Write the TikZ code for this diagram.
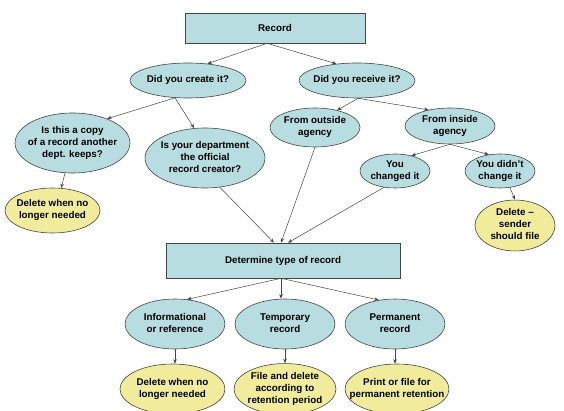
\documentclass[tikz,border=0pt]{standalone}
\usepackage{fontspec}
\setmainfont{Liberation Sans}
\usetikzlibrary{shapes.geometric,arrows.meta}
\definecolor{bb}{RGB}{183, 221, 224}
\definecolor{yy}{RGB}{241, 236, 155}
\definecolor{ln}{RGB}{70, 70, 70}
\newcommand{\tx}[1]{\makebox[0pt]{\begin{tabular}{@{}c@{}}#1\end{tabular}}}

\begin{document}
\begin{tikzpicture}[font=\fontsize{9.8}{12}\selectfont\bfseries,
  rbox/.style={rectangle, fill=bb, draw=ln, line width=0.6pt, inner sep=0pt},
  qq/.style={ellipse, fill=bb, draw=ln, line width=0.6pt, inner sep=0pt},
  aw/.style={ellipse, fill=yy, draw=ln, line width=0.6pt, inner sep=0pt},
  ar/.style={-{Stealth[length=4.5pt, width=3.5pt]}, line width=0.5pt, color=ln}]
\useasboundingbox[fill=white] (0pt, 0pt) rectangle (564pt, -411pt);
\node (rec) [rbox, minimum width=180pt, minimum height=30pt] at (275pt, -28pt) {Record};
\node (cre) [qq, minimum width=116pt, minimum height=35pt] at (188pt, -80.5pt) {\tx{Did you create it?}};
\node (rcv) [qq, minimum width=116pt, minimum height=35pt] at (357pt, -80.5pt) {\tx{Did you receive it?}};
\node (cpy) [qq, minimum width=115pt, minimum height=60pt] at (72.5pt, -143pt) {\tx{Is this a copy\\of a record another\\dept. keeps?}};
\node (dep) [qq, minimum width=120pt, minimum height=60pt] at (205pt, -158pt) {\tx{Is your department\\the official\\record creator?}};
\node (out) [qq, minimum width=90pt, minimum height=39pt] at (315pt, -127.5pt) {\tx{From outside\\agency}};
\node (ins) [qq, minimum width=90pt, minimum height=36pt] at (450pt, -126pt) {\tx{From inside\\agency}};
\node (chg) [qq, minimum width=70pt, minimum height=34pt] at (395pt, -171pt) {\tx{You\\changed it}};
\node (nch) [qq, minimum width=70pt, minimum height=34pt] at (500pt, -171pt) {\tx{You didn’t\\change it}};
\node (del1) [aw, minimum width=95pt, minimum height=45pt] at (52.5pt, -210.5pt) {\tx{Delete when no\\longer needed}};
\node (snd) [aw, minimum width=80pt, minimum height=45pt] at (515pt, -225.5pt) {\tx{Delete –\\sender\\should file}};
\node (det) [rbox, minimum width=234pt, minimum height=35pt] at (283pt, -260.5pt) {Determine type of record};
\node (inf) [qq, minimum width=100pt, minimum height=50pt] at (175pt, -324pt) {\tx{Informational\\or reference}};
\node (tmp) [qq, minimum width=100pt, minimum height=50pt] at (285pt, -324pt) {\tx{Temporary\\record}};
\node (prm) [qq, minimum width=100pt, minimum height=50pt] at (395pt, -324pt) {\tx{Permanent\\record}};
\node (del2) [aw, minimum width=105pt, minimum height=50pt] at (172.5pt, -389pt) {\tx{Delete when no\\longer needed}};
\node (fil) [aw, minimum width=102pt, minimum height=50pt] at (285pt, -389pt) {\tx{File and delete\\according to\\retention period}};
\node (prn) [aw, minimum width=104pt, minimum height=50pt] at (397pt, -389pt) {\tx{Print or file for\\permanent retention}};
\draw [ar] ([xshift=-8pt]rec.south) to (cre.41);
\draw [ar] ([xshift=-8pt]rec.south) to (rcv.141);
\draw [ar] (cre.233) to (cpy.35);
\draw [ar] (cre.233) to (dep.110);
\draw [ar] (rcv.274) to (out.38);
\draw [ar] (rcv.274) to (ins.143);
\draw [ar] (ins.south) to (chg.43);
\draw [ar] (ins.south) to (nch.124);
\draw [ar] (cpy.256) to (del1.69);
\draw [ar] (nch.301) to (snd.north);
\draw [ar] (dep.297) to ([xshift=-9pt]det.north);
\draw [ar] (out.south) to ([xshift=-2pt]det.north);
\draw [ar] (chg.236) to ([xshift=5pt]det.north);
\draw [ar] ([xshift=-2pt]det.south) to (inf.64);
\draw [ar] ([xshift=-2pt]det.south) to ([xshift=-4pt]tmp.north);
\draw [ar] ([xshift=-2pt]det.south) to (prm.124);
\draw [ar] (inf.south) to (inf.south |- del2.north);
\draw [ar] (tmp.south) to (tmp.south |- fil.north);
\draw [ar] (prm.south) to (prm.south |- prn.north);
\end{tikzpicture}
\end{document}
